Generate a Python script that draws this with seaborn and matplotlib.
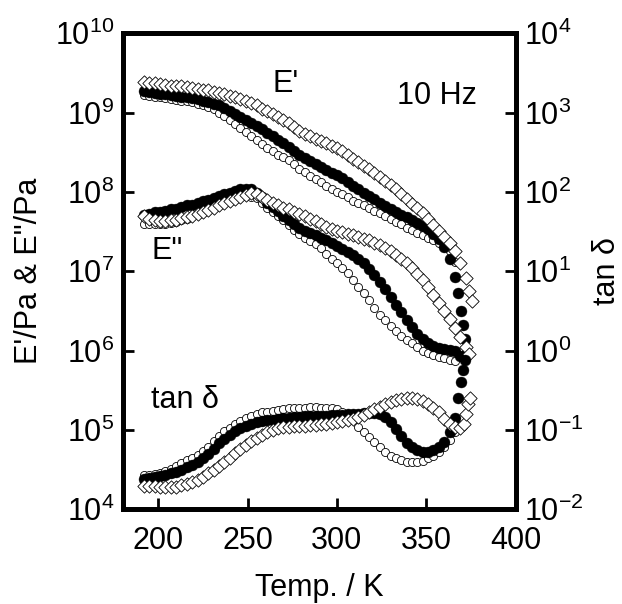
import numpy as np
import pandas as pd
import matplotlib
matplotlib.use("Agg")
import matplotlib.pyplot as plt
import seaborn as sns

# ---------------- data ----------------
# common temperature grid (K)
temp_K = [192, 195, 198, 201, 204, 207, 210, 213, 216, 219, 222, 225, 228, 231, 234,
          237, 240, 243, 246, 249, 252, 255, 258, 261, 264, 267, 270, 273, 276, 279,
          282, 285, 288, 291, 294, 297, 300, 303, 306, 309, 312, 315, 318, 321, 324,
          327, 330, 333, 336, 339, 342, 345, 348, 351, 354, 357, 360, 363, 366, 369, 372]

# log10(E' / Pa)
logE1_dia = [9.38, 9.37, 9.37, 9.36, 9.35, 9.34, 9.33, 9.33, 9.32, 9.31, 9.30, 9.29, 9.28, 9.26, 9.25,
             9.23, 9.21, 9.19, 9.17, 9.14, 9.12, 9.09, 9.05, 9.02, 8.98, 8.94, 8.91, 8.87, 8.82, 8.77,
             8.73, 8.70, 8.67, 8.64, 8.61, 8.58, 8.55, 8.51, 8.47, 8.42, 8.38, 8.33, 8.29, 8.24, 8.19,
             8.14, 8.09, 8.03, 7.97, 7.91, 7.85, 7.80, 7.73, 7.66, 7.58, 7.51, 7.43, 7.35, 7.25, 7.10, 6.92]
tail_T_E1_dia = [374, 375.5]
tail_E1_dia = [6.75, 6.62]

logE1_fill = [9.27, 9.26, 9.25, 9.24, 9.23, 9.22, 9.21, 9.20, 9.19, 9.18, 9.17, 9.15, 9.13, 9.11, 9.09,
              9.06, 9.02, 8.98, 8.95, 8.91, 8.87, 8.83, 8.79, 8.74, 8.70, 8.66, 8.61, 8.57, 8.52, 8.47,
              8.43, 8.39, 8.35, 8.31, 8.28, 8.24, 8.21, 8.17, 8.12, 8.08, 8.04, 7.99, 7.95, 7.91, 7.86,
              7.82, 7.78, 7.74, 7.71, 7.68, 7.65, 7.61, 7.57, 7.53, 7.47, 7.40, 7.31, 7.16, 6.93]
tail_T_E1_fill = [368, 369.5, 370.5, 371.5, 372]
tail_E1_fill = [6.72, 6.50, 6.32, 6.14, 5.95]

logE1_open = [9.22, 9.21, 9.20, 9.19, 9.18, 9.17, 9.16, 9.15, 9.14, 9.13, 9.11, 9.09, 9.07, 9.04, 9.00,
              8.96, 8.91, 8.86, 8.80, 8.75, 8.70, 8.65, 8.60, 8.55, 8.51, 8.47, 8.44, 8.40, 8.35, 8.29,
              8.25, 8.20, 8.16, 8.12, 8.08, 8.04, 8.00, 7.97, 7.93, 7.89, 7.86, 7.83, 7.80, 7.76, 7.73,
              7.69, 7.66, 7.62, 7.59, 7.55, 7.52, 7.48, 7.45, 7.42, 7.39, 7.36, 7.32, 7.25, 7.12]

# log10(E'' / Pa)
logE2_dia = [7.69, 7.66, 7.64, 7.63, 7.63, 7.64, 7.65, 7.67, 7.68, 7.70, 7.72, 7.74, 7.77, 7.80, 7.83,
             7.86, 7.88, 7.91, 7.94, 7.96, 7.98, 7.97, 7.94, 7.90, 7.86, 7.83, 7.80, 7.78, 7.75, 7.72,
             7.69, 7.66, 7.63, 7.60, 7.56, 7.53, 7.51, 7.49, 7.47, 7.45, 7.43, 7.41, 7.39, 7.36, 7.33,
             7.29, 7.25, 7.21, 7.16, 7.10, 7.04, 6.97, 6.89, 6.80, 6.70, 6.60, 6.50, 6.40, 6.29, 6.17, 6.05]
tail_T_E2_dia = [374]
tail_E2_dia = [5.95]

logE2_fill = [7.71, 7.72, 7.74, 7.75, 7.76, 7.78, 7.79, 7.81, 7.83, 7.84, 7.86, 7.88, 7.90, 7.92, 7.95,
              7.97, 7.99, 8.01, 8.03, 8.04, 8.03, 7.99, 7.93, 7.86, 7.81, 7.76, 7.70, 7.65, 7.60, 7.55,
              7.51, 7.48, 7.45, 7.42, 7.39, 7.35, 7.32, 7.28, 7.24, 7.20, 7.15, 7.10, 7.03, 6.95, 6.86,
              6.77, 6.68, 6.58, 6.49, 6.39, 6.30, 6.21, 6.14, 6.09, 6.06, 6.03, 6.02, 6.01, 5.99, 5.93]

logE2_open = [7.60, 7.60, 7.60, 7.60, 7.60, 7.61, 7.62, 7.64, 7.66, 7.69, 7.72, 7.75, 7.77, 7.80, 7.83,
              7.86, 7.89, 7.91, 7.93, 7.95, 7.94, 7.92, 7.86, 7.80, 7.75, 7.70, 7.64, 7.58, 7.52, 7.47,
              7.42, 7.38, 7.34, 7.29, 7.22, 7.16, 7.10, 7.04, 6.98, 6.89, 6.80, 6.72, 6.64, 6.54, 6.45,
              6.38, 6.31, 6.24, 6.18, 6.13, 6.09, 6.04, 6.00, 5.97, 5.94, 5.92, 5.90, 5.88, 5.87]

# log10(tan delta)
logTan_fill = [-1.62, -1.61, -1.60, -1.58, -1.57, -1.55, -1.53, -1.50, -1.47, -1.44, -1.40, -1.36, -1.31, -1.24, -1.17,
               -1.11, -1.06, -1.02, -0.98, -0.95, -0.92, -0.90, -0.89, -0.88, -0.87, -0.86, -0.85, -0.85, -0.84, -0.84,
               -0.83, -0.83, -0.83, -0.82, -0.82, -0.81, -0.81, -0.81, -0.80, -0.80, -0.80, -0.79, -0.79, -0.79, -0.80,
               -0.84, -0.90, -0.99, -1.08, -1.16, -1.22, -1.26, -1.28, -1.28, -1.26, -1.22, -1.15, -1.03, -0.85]
tail_T_tan_fill = [368, 369.5, 370.5, 371.5]
tail_tan_fill = [-0.60, -0.40, -0.25, -0.12]

logTan_open = [-1.57, -1.57, -1.56, -1.55, -1.52, -1.49, -1.46, -1.42, -1.38, -1.35, -1.32, -1.27, -1.21, -1.14, -1.08,
               -1.02, -0.98, -0.93, -0.89, -0.85, -0.82, -0.80, -0.78, -0.77, -0.76, -0.75, -0.74, -0.73, -0.73, -0.72,
               -0.72, -0.71, -0.71, -0.72, -0.72, -0.73, -0.74, -0.77, -0.81, -0.88, -0.96, -1.03, -1.09, -1.15, -1.22,
               -1.28, -1.33, -1.36, -1.38, -1.40, -1.40, -1.40, -1.39, -1.36, -1.33, -1.28, -1.22, -1.13, -1.03]

logTan_dia = [-1.71, -1.71, -1.71, -1.72, -1.72, -1.72, -1.72, -1.70, -1.68, -1.66, -1.63, -1.59, -1.55, -1.50, -1.46,
              -1.41, -1.35, -1.29, -1.24, -1.19, -1.14, -1.10, -1.06, -1.03, -1.00, -0.98, -0.97, -0.96, -0.95, -0.95,
              -0.95, -0.94, -0.94, -0.93, -0.92, -0.91, -0.90, -0.89, -0.88, -0.86, -0.84, -0.81, -0.78, -0.74, -0.71,
              -0.68, -0.65, -0.63, -0.61, -0.60, -0.60, -0.61, -0.64, -0.68, -0.72, -0.78, -0.86, -0.93, -0.97, -0.98]
tail_T_tan_dia = [371, 372.5, 373.5, 374.5]
tail_tan_dia = [-0.92, -0.80, -0.68, -0.60]

x_ticks = [200, 250, 300, 350, 400]


def series(logvals, tail_T=(), tail_v=()):
    T = list(temp_K[:len(logvals)]) + list(tail_T)
    v = list(logvals) + list(tail_v)
    return pd.DataFrame({"T": T, "val": np.power(10.0, v)})


sns.set_theme(style="ticks")
plt.rcParams["font.family"] = ["Liberation Sans", "DejaVu Sans"]
plt.rcParams["mathtext.fontset"] = "custom"
plt.rcParams["mathtext.rm"] = "Liberation Sans"
plt.rcParams["mathtext.it"] = "Liberation Sans:italic"
plt.rcParams["axes.unicode_minus"] = False
for key in ["text.color", "axes.labelcolor", "xtick.color", "ytick.color",
            "xtick.labelcolor", "ytick.labelcolor", "axes.edgecolor"]:
    plt.rcParams[key] = "black"

fig = plt.figure(figsize=(6.22, 6.04), dpi=100)
ax = fig.add_axes([0.197, 0.157, 0.632, 0.788])
ax2 = ax.twinx()

FS = 22

ax.set_yscale("log")
ax2.set_yscale("log")

open_kw = dict(marker="o", s=34, facecolor="white", edgecolor="black", linewidth=0.6)
fill_kw = dict(marker="o", s=62, color="black", edgecolor="black", linewidth=0.3)
dia_kw = dict(marker="D", s=46, facecolor="white", edgecolor="black", linewidth=0.6)

# E' and E'' on left axis
for d, kw in [
    (series(logE1_open), open_kw),
    (series(logE2_open), open_kw),
    (series(logE1_fill, tail_T_E1_fill, tail_E1_fill), fill_kw),
    (series(logE2_fill), fill_kw),
    (series(logE1_dia, tail_T_E1_dia, tail_E1_dia), dia_kw),
    (series(logE2_dia, tail_T_E2_dia, tail_E2_dia), dia_kw),
]:
    sns.scatterplot(data=d, x="T", y="val", ax=ax, legend=False, zorder=3, **kw)

# tan delta on right axis
for d, kw in [
    (series(logTan_open), open_kw),
    (series(logTan_fill, tail_T_tan_fill, tail_tan_fill), fill_kw),
    (series(logTan_dia, tail_T_tan_dia, tail_tan_dia), dia_kw),
]:
    sns.scatterplot(data=d, x="T", y="val", ax=ax2, legend=False, zorder=3, **kw)

ax.set_xlim(180, 400)
ax.set_ylim(1e4, 1e10)
ax2.set_ylim(1e-2, 1e4)
ax.set_xticks(x_ticks)
ax.set_yticks([1e4, 1e5, 1e6, 1e7, 1e8, 1e9, 1e10])
ax2.set_yticks([1e-2, 1e-1, 1e0, 1e1, 1e2, 1e3, 1e4])
ax.yaxis.set_minor_locator(matplotlib.ticker.NullLocator())
ax2.yaxis.set_minor_locator(matplotlib.ticker.NullLocator())

for a in (ax, ax2):
    a.tick_params(axis="both", which="major", direction="in", length=8, width=2,
                  labelsize=FS, pad=6, colors="black")
    for sp in a.spines.values():
        sp.set_linewidth(3.5)
        sp.set_color("black")
        sp.set_visible(True)
ax.tick_params(axis="x", pad=12)

ax.set_xlabel("Temp. / K", fontsize=FS, labelpad=12)
ax.set_ylabel("E'/Pa & E\"/Pa", fontsize=FS, labelpad=8)
ax2.set_ylabel("tan \u03b4", fontsize=FS, labelpad=6)

ax.text(271, 10**9.36, "E'", fontsize=FS, ha="center", va="center")
ax.text(356, 10**9.21, "10 Hz", fontsize=FS, ha="center", va="center")
ax.text(205, 10**7.25, "E\"", fontsize=FS, ha="center", va="center")
ax.text(215, 10**5.38, "tan \u03b4", fontsize=FS, ha="center", va="center")

fig.savefig("out.png", dpi=100)
